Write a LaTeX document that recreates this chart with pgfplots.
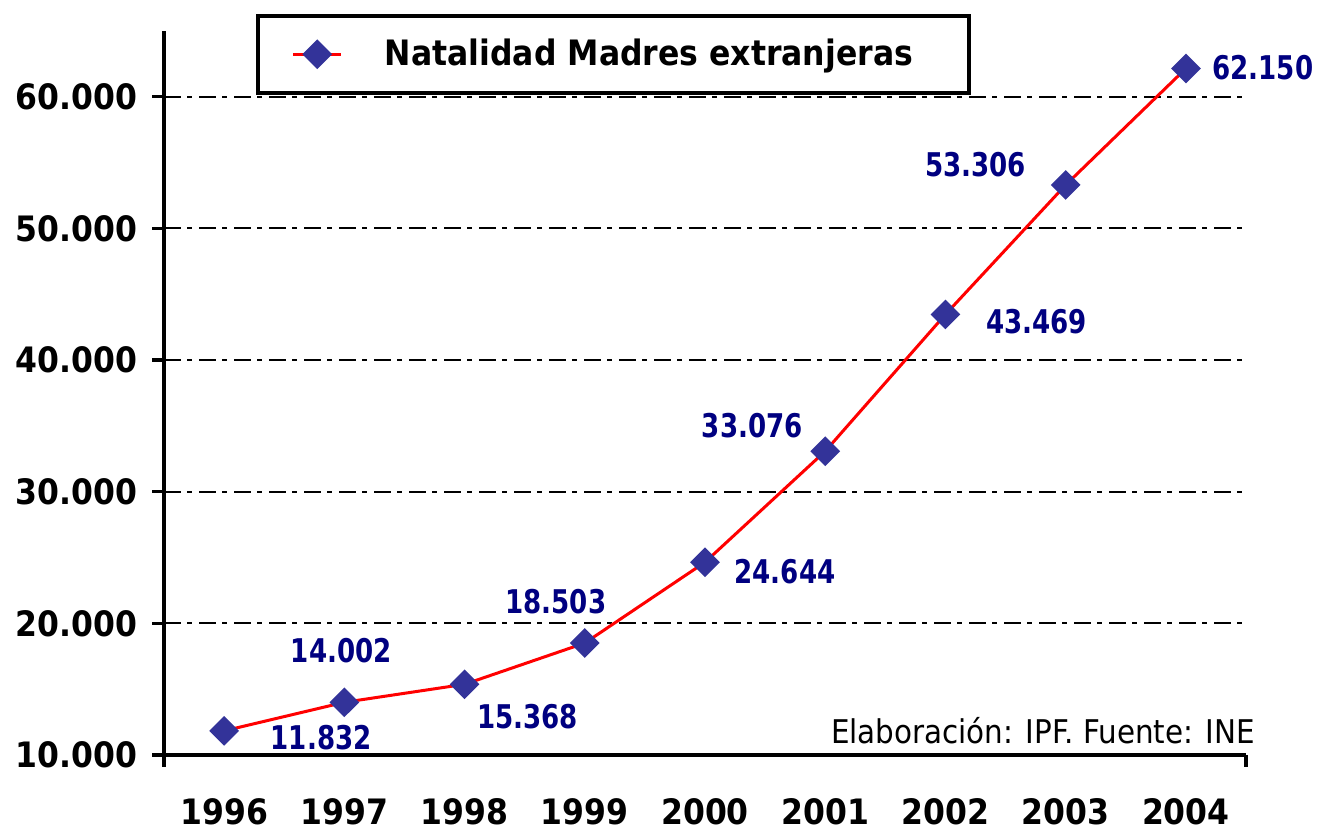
\documentclass[border=0pt]{standalone}
\usepackage{pgfplots}
\pgfplotsset{compat=1.18}
\usepackage{fontspec}
\setmainfont{DejaVu Sans}[FakeStretch=0.9]
\newfontfamily\lblfont{DejaVu Sans}[FakeStretch=0.8]
\definecolor{markcol}{RGB}{51,51,153}
\definecolor{lblcol}{RGB}{0,0,128}
\begin{document}
\begin{tikzpicture}[lbl/.style={font=\fontsize{9.8}{11}\lblfont\bfseries, text=lblcol, inner sep=0pt}]
\begin{axis}[
  scale only axis,
  width=324.6pt, height=217.2pt,
  xmin=-0.5, xmax=8.5,
  ymin=10000, ymax=65000,
  axis x line*=bottom, axis y line*=left,
  axis line style={line width=1pt, -},
  xtick={0,...,8},
  xticklabels={1996,1997,1998,1999,2000,2001,2002,2003,2004},
  xtick style={draw=none},
  xticklabel style={font=\fontsize{10.5}{12}\selectfont\bfseries, yshift=-6pt},
  ytick={10000,20000,30000,40000,50000,60000},
  scaled y ticks=false,
  ytick style={line width=1pt, black},
  tick align=outside,
  major tick length=3.6pt,
  yticklabel style={font=\fontsize{10.5}{12}\selectfont\bfseries, xshift=-1pt,
    /pgf/number format/.cd, fixed, 1000 sep={.}, assume math mode=true},
  ymajorgrids,
  major grid style={black, line width=0.6pt, dash pattern=on 5pt off 2pt on 1.5pt off 2pt},
  clip=false,
  legend style={at={(rel axis cs:0.085,1.0235)}, anchor=north west,
    draw=black, line width=1.1pt, inner xsep=10.2pt, inner ysep=4.8pt,
    font=\fontsize{10.5}{12}\selectfont\bfseries,
    /tikz/every odd column/.append style={column sep=10.6pt}},
  legend image code/.code={\draw[mark repeat=2,mark phase=2,#1] plot coordinates {(0pt,0pt) (7.2pt,0pt) (14.4pt,0pt)};},
]
\addplot[red, line width=0.9pt, mark=square*, mark size=2.9pt,
  mark options={rotate=45, draw=markcol, fill=markcol, line width=0.5pt}]
  coordinates {(0,11832) (1,14002) (2,15368) (3,18503) (4,24644) (5,33076) (6,43469) (7,53306) (8,62150)};
\addlegendentry{Natalidad Madres extranjeras\hspace*{4.5pt}}
\node[lbl, xshift=29.1pt, yshift=-2.1pt] at (axis cs:0,11832) {11.832};
\node[lbl, xshift=-0.9pt, yshift=15.6pt] at (axis cs:1,14002) {14.002};
\node[lbl, xshift=18.9pt, yshift=-9.6pt] at (axis cs:2,15368) {15.368};
\node[lbl, xshift=-8.7pt, yshift=12.3pt] at (axis cs:3,18503) {18.503};
\node[lbl, xshift=24.0pt, yshift=-2.7pt] at (axis cs:4,24644) {24.644};
\node[lbl, xshift=-21.9pt, yshift=7.8pt] at (axis cs:5,33076) {33.076};
\node[lbl, xshift=27.3pt, yshift=-2.1pt] at (axis cs:6,43469) {43.469};
\node[lbl, xshift=-27.0pt, yshift=6.0pt] at (axis cs:7,53306) {53.306};
\node[lbl, xshift=23.1pt, yshift=0.3pt] at (axis cs:8,62150) {62.150};
\node[anchor=east, inner sep=0pt, font=\fontsize{9.8}{11}\selectfont] at (rel axis cs:1.009,0.033) {Elaboración: IPF. Fuente: INE};
\draw[line width=1pt] (rel axis cs:0,0) -- ++(0pt,-3.6pt);
\draw[line width=1pt] (rel axis cs:1,0) -- ++(0pt,-3.6pt);
\path (rel axis cs:-0.1516,-0.1008) rectangle (rel axis cs:1.073,1.0428);
\end{axis}
\end{tikzpicture}
\end{document}
